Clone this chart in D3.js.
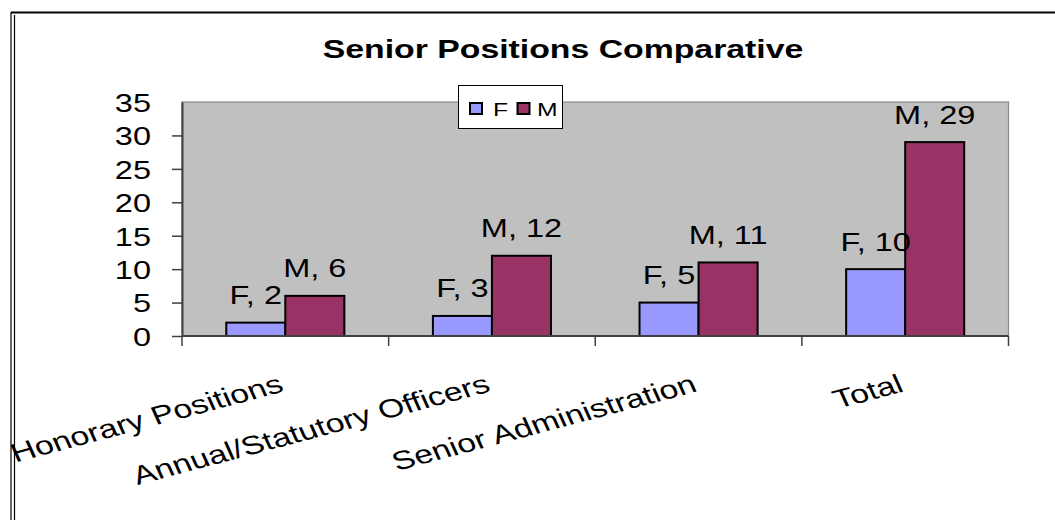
<!DOCTYPE html>
<html>
<head>
<meta charset="utf-8">
<script src="https://cdn.jsdelivr.net/npm/d3@7"></script>
<style>
  body { margin: 0; background: #fff; }
  svg text { font-family: "Liberation Sans", Arial, sans-serif; }
</style>
</head>
<body>
<svg id="chart" width="1055" height="520"></svg>
<script>
// chart data
var categories = ["Honorary Positions", "Annual/Statutory Officers", "Senior Administration", "Total"];
var series = ["F", "M"];
var fValues = [2, 3, 5, 10];
var mValues = [6, 12, 11, 29];
var yTicks = [0, 5, 10, 15, 20, 25, 30, 35];
var colors = {F: "#9999FF", M: "#993366"};

var svg = d3.select("#chart");
var sx = 1.3; // the picture is stretched sideways

// frame
svg.append("line").attr("x1", 11).attr("x2", 1055).attr("y1", 12.5).attr("y2", 12.5).style("stroke", "black").style("stroke-width", 2);
svg.append("line").attr("x1", 11).attr("x2", 11).attr("y1", 12).attr("y2", 520).style("stroke", "black").style("stroke-width", 1.2);
svg.append("line").attr("x1", 14.5).attr("x2", 14.5).attr("y1", 15).attr("y2", 520).style("stroke", "black").style("stroke-width", 1.2);

var x0 = d3.scaleBand().domain(categories).range([182, 1008.5]).padding(0);
var x1 = d3.scaleBand().domain(series).range([0, x0.bandwidth()]).paddingInner(0).paddingOuter(0.75);
var y = d3.scaleLinear().domain([0, 35]).range([336, 102]);

// plot area
svg.append("rect")
  .attr("x", x0.range()[0]).attr("y", y(35))
  .attr("width", x0.range()[1] - x0.range()[0]).attr("height", y(0) - y(35))
  .style("fill", "#C0C0C0").style("stroke", "#8a8a8a").style("stroke-width", 1.2);

function stretchText(g, x, yy, txt, size, weight, anchor, rot) {
  return g.append("text")
    .attr("transform", "translate(" + x + "," + yy + ") scale(" + sx + ",1)" + (rot ? " rotate(" + rot + ")" : ""))
    .attr("text-anchor", anchor)
    .style("font-size", size + "px")
    .style("font-weight", weight)
    .style("fill", "#000")
    .text(txt);
}

// title
stretchText(svg, 563, 58, "Senior Positions Comparative", 26, "bold", "middle");

// bars
var rows = categories.map(function(c, i) {
  return {cat: c, vals: [{s: "F", v: fValues[i]}, {s: "M", v: mValues[i]}]};
});

var groups = svg.selectAll(".grp").data(rows).enter().append("g")
  .attr("transform", function(d) { return "translate(" + x0(d.cat) + ",0)"; });

groups.selectAll("rect").data(function(d) { return d.vals; }).enter().append("rect")
  .attr("x", function(d) { return x1(d.s); })
  .attr("y", function(d) { return y(d.v); })
  .attr("width", x1.bandwidth())
  .attr("height", function(d) { return y(0) - y(d.v); })
  .style("fill", function(d) { return colors[d.s]; })
  .style("stroke", "black").style("stroke-width", 2);

groups.each(function(d) {
  var g = d3.select(this);
  d.vals.forEach(function(v) {
    stretchText(g, x1(v.s) + x1.bandwidth() / 2, y(v.v) - 18.5, v.s + ", " + v.v, 25, "normal", "middle");
  });
});

// y axis
var yAxis = svg.append("g").attr("transform", "translate(182,0)")
  .call(d3.axisLeft(y).tickValues(yTicks).tickSize(10).tickSizeOuter(0));
yAxis.select(".domain").style("stroke", "#404040").style("stroke-width", 2);
yAxis.selectAll(".tick line").style("stroke", "#404040").style("stroke-width", 1.5)
  .filter(function(d) { return d === 35; }).remove();
yAxis.selectAll(".tick text")
  .attr("x", null).attr("dy", "0.36em")
  .attr("transform", "translate(-31,0) scale(1.25,1)")
  .style("font-size", "26px").style("fill", "#000")
  .style("font-family", "'Liberation Sans', Arial, sans-serif");

// x axis
svg.append("line").attr("x1", 182).attr("x2", x0.range()[1]).attr("y1", y(0)).attr("y2", y(0))
  .style("stroke", "#404040").style("stroke-width", 2);
var bounds = categories.map(function(c) { return x0(c); }).concat([x0.range()[1]]);
svg.selectAll(".xtick").data(bounds).enter().append("line")
  .attr("x1", function(d) { return d; }).attr("x2", function(d) { return d; })
  .attr("y1", y(0)).attr("y2", y(0) + 10)
  .style("stroke", "#404040").style("stroke-width", 1.5);

categories.forEach(function(c) {
  stretchText(svg, x0(c) + x0.bandwidth() / 2, 391, c, 26, "normal", "end", -19);
});

// legend
var lg = svg.append("g").attr("transform", "translate(458.5,85.5)");
lg.append("rect").attr("width", 104).attr("height", 43).style("fill", "white").style("stroke", "black").style("stroke-width", 1);
series.forEach(function(s, i) {
  lg.append("rect").attr("x", 11.5 + i * 47.5).attr("y", 17.5).attr("width", 12).attr("height", 11)
    .style("fill", colors[s]).style("stroke", "black").style("stroke-width", 2);
  stretchText(lg, 34.5 + i * 44, 30.5, s, 19, "normal", "start");
});
</script>
</body>
</html>
